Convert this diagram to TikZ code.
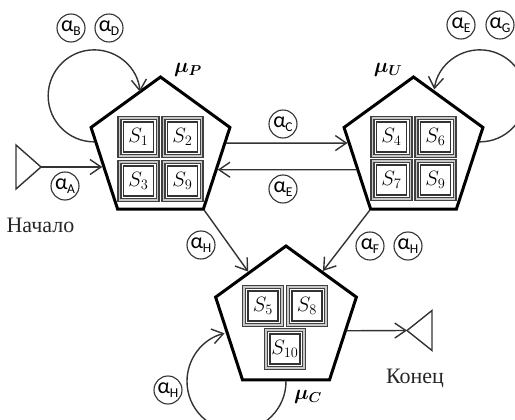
\documentclass[tikz,border=0pt]{standalone}
\usepackage{fontspec}
\setmainfont{Carlito}
\newfontfamily\rufont{Liberation Serif}
\usepackage{bm}
\usetikzlibrary{shapes.geometric,arrows.meta}
\newcommand\alab[1]{α\kern-0.3pt\raisebox{-3.5pt}{\fontsize{13.5}{13.5}\selectfont #1}}
\tikzset{
  pent/.style={regular polygon, regular polygon sides=5, draw=black, line width=3pt,
    minimum size=146pt, inner sep=0pt},
  sq/.style={draw=black!80, line width=1.3pt, fill=white, minimum size=30pt, inner sep=0pt,
    font=\fontsize{21}{21}\selectfont,
    preaction={draw=black!75, line width=12.5pt},
    preaction={draw=black!22, line width=9.5pt},
    preaction={draw=black!75, line width=6.6pt},
    preaction={draw=white, line width=4pt}},
  lab/.style={circle, draw=black!80, line width=1.1pt, minimum size=28pt,
    inner sep=-5pt, font=\fontsize{22}{22}\selectfont},
  mu/.style={inner sep=0pt, font=\fontsize{21}{21}\selectfont},
  ru/.style={inner sep=0pt, font=\rufont\fontsize{22}{22}\selectfont, text=black!85},
  conn/.style={draw=black!80, line width=1.4pt, line cap=round,
    -{Straight Barb[length=11pt,width=15pt,line width=1.4pt]}},
  tri/.style={draw=black!80, line width=1.4pt, line join=miter}
}
\begin{document}
\begin{tikzpicture}[x=1pt,y=-1pt]
\useasboundingbox (0,0) rectangle (515,420);
% pentagons
\node[pent] (P) at (160.5,150) {};
\node[pent] (U) at (413.5,150) {};
\node[pent, minimum size=148pt] (C) at (286,320) {};
% state boxes
\node[sq] (s1) at (138.5,137) {$S_1$};
\node[sq] (s2) at (182.5,137) {$S_2$};
\node[sq] (s3) at (138.5,181) {$S_3$};
\node[sq] (s9a) at (182.5,181) {$S_9$};
\node[sq] (s4) at (391.5,137) {$S_4$};
\node[sq] (s6) at (435.5,137) {$S_6$};
\node[sq] (s7) at (391.5,180) {$S_7$};
\node[sq] (s9b) at (435.5,180) {$S_9$};
\node[sq] (s5) at (263,306) {$S_5$};
\node[sq] (s8) at (307,306) {$S_8$};
\node[sq] (s10) at (285,349) {$S_{10}$};
% mu labels
\node[mu] (muP) at (188,70) {$\bm{\mu_{P}}$};
\node[mu] (muU) at (388,70) {$\bm{\mu_{U}}$};
\node[mu] (muC) at (308,397) {$\bm{\mu_{C}}$};
% start / end
\coordinate (start) at (41,167);
\draw[tri] (start) -- ++(-25,-22) -- ++(0,44) -- cycle;
\coordinate (end) at (407,330.5);
\draw[tri] (end) -- ++(25,-20) -- ++(0,40) -- cycle;
\node[ru, anchor=base] (beg) at (40.5,232.7) {Начало};
\node[ru, anchor=base] (fin) at (415,383) {Конец};
% connectors
\draw[conn] (start) -- (start -| P.196);
\draw[conn] (P.6) -- (U.174);
\draw[conn] (U.199) -- (P.-19);
\draw[conn] (P.corner 4) -- (C.128);
\draw[conn] (U.corner 3) -- (C.53);
\draw[conn] (C.-10) -- (end);
% loops
\draw[conn] (P.173) arc[start angle=90, end angle=355, radius=46];
\draw[conn] (U.7) arc[start angle=90, end angle=-172, radius=46];
\draw[conn] (C.-90) arc[start angle=0, end angle=256, radius=49.5];
% alpha labels
\node[lab] (aB) at (71,28) {\alab{B}};
\node[lab] (aD) at (109,28) {\alab{D}};
\node[lab] (aE1) at (461,25) {\alab{E}};
\node[lab] (aG) at (500,25) {\alab{G}};
\node[lab] (aC) at (283,124) {\alab{C}};
\node[lab] (aE2) at (283,189) {\alab{E}};
\node[lab] (aA) at (65,186) {\alab{A}};
\node[lab] (aH1) at (201,245) {\alab{H}};
\node[lab] (aF) at (370,246) {\alab{F}};
\node[lab] (aH2) at (408,246) {\alab{H}};
\node[lab] (aH3) at (168,390) {\alab{H}};
\end{tikzpicture}
\end{document}
